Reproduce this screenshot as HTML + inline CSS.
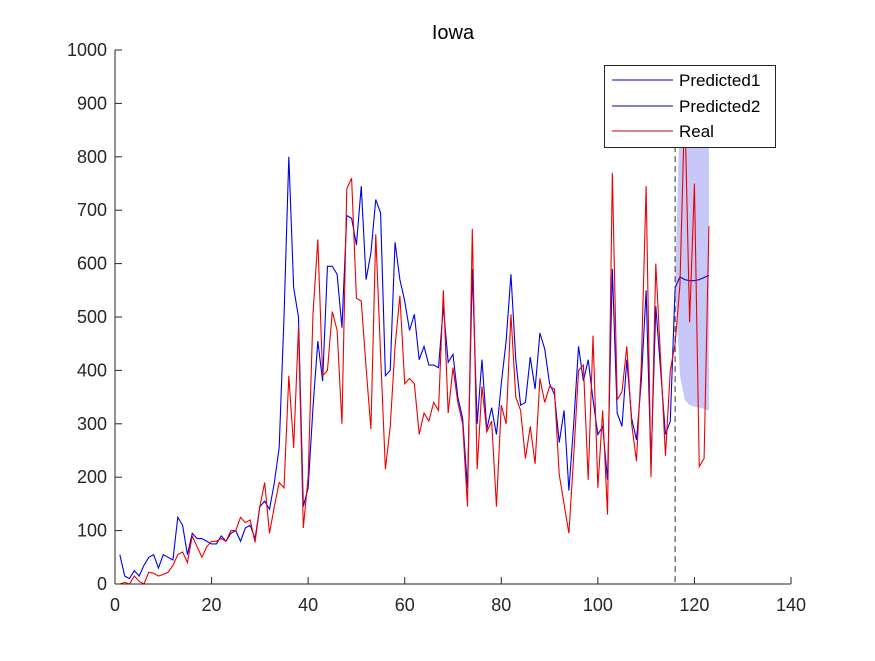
<!DOCTYPE html>
<html><head><meta charset="utf-8"><style>
body{margin:0;background:#fff;width:875px;height:656px;overflow:hidden}
text{font-family:"Liberation Sans",sans-serif}
</style></head><body>
<svg id="chart" width="875" height="656" xmlns="http://www.w3.org/2000/svg">
<defs><clipPath id="clip"><rect x="115" y="50" width="676" height="534"/></clipPath></defs>
<g id="plot" clip-path="url(#clip)"></g>
<g id="axes"></g>
</svg>
<script>
const blue=[55,15,10,25,15,35,50,55,30,55,50,45,125,110,55,95,85,85,80,75,75,90,80,95,100,80,105,110,85,145,155,140,190,255,500,800,555,500,145,180,330,455,380,595,595,580,480,690,685,635,745,570,620,720,695,390,400,640,570,530,475,505,420,445,410,410,405,520,415,430,350,310,180,590,300,420,290,330,280,375,455,580,420,335,340,425,365,470,440,375,355,265,325,175,300,445,380,420,345,280,295,195,590,320,295,420,310,270,380,550,220,520,400,280,305,555];
const predX=[116,117,118,119,120,121,122,123];
const pred=[555,575,570,568,568,570,574,578];
const bandLow=[555,390,345,335,332,330,328,325];
const bandHigh=[555,900,900,900,900,900,900,900];
const red=[0,3,0,15,5,0,22,20,15,18,22,35,55,60,40,90,70,50,70,80,80,85,80,100,100,125,115,120,78,145,190,95,145,190,180,390,255,480,105,200,505,645,390,400,510,475,300,740,760,535,530,405,290,655,430,215,295,445,540,375,385,375,280,320,305,340,325,550,320,405,340,300,145,665,215,370,285,305,145,335,300,505,350,325,235,295,225,385,340,370,365,205,150,95,240,400,410,195,465,180,325,130,770,345,360,445,300,230,410,745,200,600,420,240,400,450,560,900,490,750,220,235,670];
const xTicks=[0,20,40,60,80,100,120,140];
const yTicks=[0,100,200,300,400,500,600,700,800,900,1000];
const X=v=>115+v*676/140, Y=v=>584-v*534/1000;
const NS="http://www.w3.org/2000/svg";
function mk(t,a,p){const e=document.createElementNS(NS,t);for(const k in a)e.setAttribute(k,a[k]);p.appendChild(e);return e;}
const plot=document.getElementById('plot'),axes=document.getElementById('axes');
let d=predX.map((x,i)=>X(x)+','+Y(bandHigh[i])).join(' ')+' '+predX.slice().reverse().map((x,i)=>X(x)+','+Y(bandLow[predX.length-1-i])).join(' ');
let band=mk('polygon',{points:d,fill:'#c8c8f8',stroke:'none'},plot);


function line(xs,ys,col,name){const l=mk('polyline',{points:ys.map((v,i)=>X(xs[i])+','+Y(v)).join(' '),fill:'none',stroke:col,'stroke-width':1.1},plot);

}
line(blue.map((v,i)=>i+1),blue,'#0000ee','predicted1-line');
line(predX,pred,'#0000ee','predicted2-line');
line(red.map((v,i)=>i+1),red,'#ee0000','real-line');
let dl=mk('line',{x1:X(116),x2:X(116),y1:Y(820),y2:584,stroke:'#333','stroke-dasharray':'6,4','stroke-width':1},plot);


mk('line',{x1:115,x2:115,y1:50,y2:584,stroke:'#262626'},axes);
mk('line',{x1:115,x2:791,y1:584,y2:584,stroke:'#262626'},axes);
xTicks.forEach(v=>{mk('line',{x1:X(v),x2:X(v),y1:584,y2:577,stroke:'#262626'},axes);
const t=mk('text',{x:X(v),y:611,'text-anchor':'middle','font-size':18,fill:'#262626'},axes);t.textContent=v;

});
yTicks.forEach(v=>{mk('line',{x1:115,x2:122,y1:Y(v),y2:Y(v),stroke:'#262626'},axes);
const t=mk('text',{x:107,y:Y(v)+6,'text-anchor':'end','font-size':18,fill:'#262626'},axes);t.textContent=v;

});
</script>
<svg style="position:absolute;left:0;top:0" width="875" height="656">
<text x="453" y="39" text-anchor="middle" font-size="20" fill="#000">Iowa</text>
<g>
<rect x="604.5" y="65.5" width="171" height="82" fill="#fff" stroke="#262626"/>
<line x1="612" x2="673" y1="80" y2="80" stroke="#0000b0"/>
<text x="679" y="86" font-size="17">Predicted1</text>
<line x1="612" x2="673" y1="106" y2="106" stroke="#0000b0"/>
<text x="679" y="112" font-size="17">Predicted2</text>
<line x1="612" x2="673" y1="131" y2="131" stroke="#c00000"/>
<text x="679" y="137" font-size="17">Real</text>
</g>
</svg>
</body></html>
